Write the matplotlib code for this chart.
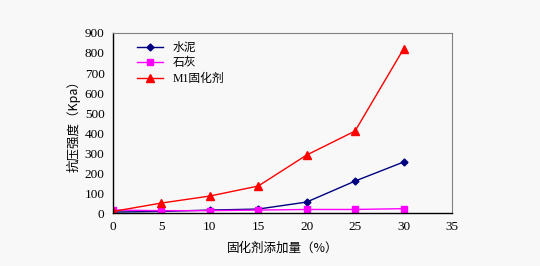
import matplotlib.pyplot as plt

# 固化剂添加量 (%)
dosage = [0, 5, 10, 15, 20, 25, 30]
cement = [5, 8, 15, 20, 55, 160, 255]
lime = [15, 12, 12, 15, 18, 18, 22]
m1 = [8, 50, 85, 135, 290, 410, 820]

plt.rcParams['font.family'] = ['Liberation Serif', 'Noto Sans CJK SC']

fig = plt.figure(figsize=(5.4, 2.66), dpi=100, facecolor='#f8f8f8')
ax = fig.add_axes([0.209, 0.199, 0.628, 0.677], facecolor='#f8f8f8')

ax.plot(dosage, cement, color='#000080', marker='D', markersize=3.5, lw=1, label='水泥')
ax.plot(dosage, lime, color='#ff00ff', marker='s', markersize=4.5, lw=1, label='石灰')
ax.plot(dosage, m1, color='#ff0000', marker='^', markersize=5.5, lw=1, label='M1固化剂')

ax.set_xlim(0, 35)
ax.set_ylim(0, 900)
ax.set_xticks(range(0, 36, 5))
ax.set_yticks(range(0, 901, 100))
ax.tick_params(labelsize=9.5, length=0, pad=6)

for s in ['top', 'right']:
    ax.spines[s].set_color('#808080')
    ax.spines[s].set_linewidth(0.8)
for s in ['left', 'bottom']:
    ax.spines[s].set_color('black')
    ax.spines[s].set_linewidth(1)

ax.set_xlabel('固化剂添加量（%）', fontsize=9, family=['Noto Sans CJK SC'], labelpad=6)
ax.set_ylabel('抗压强度（Kpa）', fontsize=9, family=['Noto Sans CJK SC'], labelpad=3)

ax.legend(loc='upper left', bbox_to_anchor=(0.04, 1.01), frameon=False,
          handlelength=2.2, labelspacing=0.3,
          prop={'family': ['Liberation Serif', 'Noto Sans CJK SC'], 'size': 8.5})

fig.savefig('out.png', dpi=100, facecolor=fig.get_facecolor())
